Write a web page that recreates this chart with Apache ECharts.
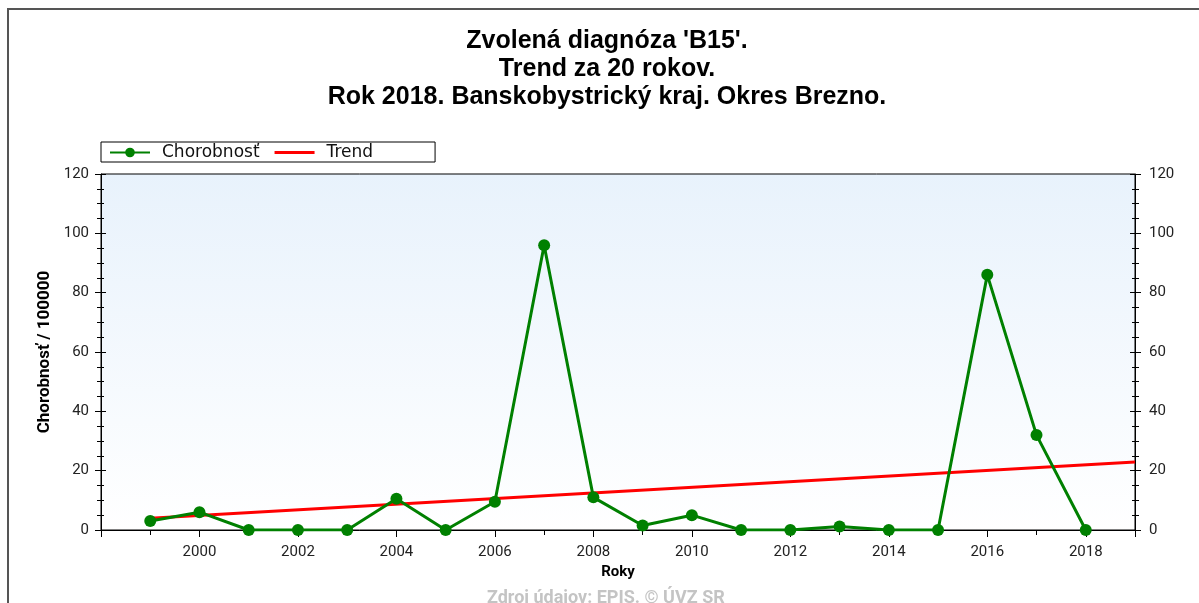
<!DOCTYPE html>
<html>
<head>
<meta charset="utf-8">
<script src="https://cdn.jsdelivr.net/npm/echarts@6/dist/echarts.min.js"></script>
<style>
  html, body { margin: 0; padding: 0; background: #fff; }
  #chart { width: 1199px; height: 603px; }
</style>
</head>
<body>
<div id="chart"></div>
<script>
// data
const years = [1999, 2000, 2001, 2002, 2003, 2004, 2005, 2006, 2007, 2008,
               2009, 2010, 2011, 2012, 2013, 2014, 2015, 2016, 2017, 2018];
const incidence = [3, 6, 0, 0, 0, 10.5, 0, 9.5, 96, 11,
                   1.5, 5, 0, 0, 1.2, 0, 0, 86, 32, 0];
const trendYears = [1999, 2019];
const trendValues = [4, 22.9];
const yTicks = [0, 20, 40, 60, 80, 100, 120];

const chartDom = document.getElementById("chart");
const chart = echarts.init(chartDom);

const labelFont = "Roboto, 'Liberation Sans', sans-serif";
const axisBase = {
  type: "value",
  min: yTicks[0],
  max: yTicks[yTicks.length - 1],
  interval: 20,
  splitLine: { show: false },
};

// plain line icon for the trend entry (degenerate points keep the box 40x12)
const lineIcon = "path://M0,0 L0,0 M0,4.5 L40,4.5 L40,7.5 L0,7.5 Z M40,12 L40,12";

const option = {
  animation: false,
  backgroundColor: "#fff",
  title: {
    text: "Zvolená diagnóza 'B15'.\nTrend za 20 rokov.\nRok 2018. Banskobystrický kraj. Okres Brezno.",
    left: 602,
    textAlign: "center",
    top: 22,
    textStyle: {
      fontFamily: "'Liberation Sans', Arial, sans-serif",
      fontWeight: "bold",
      fontSize: 25,
      lineHeight: 28,
      color: "#000",
    },
  },
  legend: {
    left: 101,
    top: 142,
    padding: [2, 62, 1, 8],
    borderColor: "#000",
    borderWidth: 1,
    itemWidth: 40,
    itemHeight: 12,
    itemGap: 15,
    textStyle: {
      fontFamily: "'DejaVu Sans', sans-serif",
      fontSize: 17,
      color: "#111",
      padding: [0, 0, 0, 7],
    },
    data: [
      { name: "Chorobnosť" },
      { name: "Trend", icon: lineIcon, itemStyle: { color: "#ff0000" } },
    ],
  },
  grid: {
    left: 101,
    right: 64,
    top: 174,
    bottom: 73,
    show: true,
    borderColor: "#000",
    borderWidth: 1,
    backgroundColor: new echarts.graphic.LinearGradient(0, 0, 0, 1, [
      { offset: 0, color: "#e8f2fc" },
      { offset: 1, color: "#ffffff" },
    ]),
  },
  xAxis: [
    {
      type: "value",
      min: 1998,
      max: 2019,
      interval: 2,
      position: "bottom",
      name: "Roky",
      nameLocation: "middle",
      nameGap: 35,
      nameTextStyle: { fontFamily: labelFont, fontWeight: "bold", fontSize: 15, color: "#000" },
      axisLine: { lineStyle: { color: "#000", width: 1 } },
      axisTick: { length: 7, lineStyle: { color: "#000" } },
      minorTick: { show: true, splitNumber: 2, length: 5, lineStyle: { color: "#000" } },
      axisLabel: {
        margin: 15,
        fontFamily: labelFont,
        fontSize: 15,
        color: "#222",
        formatter: (v) => (v === 1998 || v === 2019 ? "" : String(v)),
      },
      splitLine: { show: false },
    },
    {
      type: "value",
      min: 1998,
      max: 2019,
      interval: 1,
      position: "top",
      axisLine: { show: false },
      axisTick: { inside: true, length: 5, lineStyle: { color: "#000" } },
      axisLabel: { show: false },
      splitLine: { show: false },
    },
  ],
  yAxis: [
    Object.assign({}, axisBase, {
      position: "left",
      name: "Chorobnosť / 100000",
      nameLocation: "middle",
      nameGap: 46,
      nameTextStyle: { fontFamily: labelFont, fontWeight: "bold", fontSize: 17, color: "#000" },
      axisLine: { show: true, lineStyle: { color: "#000" } },
      axisTick: { length: 6, lineStyle: { color: "#000" } },
      minorTick: { show: true, splitNumber: 4, length: 4, lineStyle: { color: "#000" } },
      axisLabel: { margin: 12, fontFamily: labelFont, fontSize: 15, color: "#222" },
    }),
    Object.assign({}, axisBase, {
      position: "right",
      axisLine: { show: true, lineStyle: { color: "#000" } },
      axisTick: { length: 6, lineStyle: { color: "#000" } },
      minorTick: { show: true, splitNumber: 4, length: 4, lineStyle: { color: "#000" } },
      axisLabel: { margin: 14, fontFamily: labelFont, fontSize: 15, color: "#222" },
    }),
    Object.assign({}, axisBase, {
      position: "left",
      axisLine: { show: false },
      axisTick: { inside: true, length: 5, lineStyle: { color: "#000" } },
      minorTick: { show: true, splitNumber: 4, length: 3, lineStyle: { color: "#000" } },
      axisLabel: { show: false },
    }),
    Object.assign({}, axisBase, {
      position: "right",
      axisLine: { show: false },
      axisTick: { inside: true, length: 5, lineStyle: { color: "#000" } },
      minorTick: { show: true, splitNumber: 4, length: 3, lineStyle: { color: "#000" } },
      axisLabel: { show: false },
    }),
  ],
  graphic: [
    {
      type: "rect",
      shape: { x: 8, y: 9, width: 1400, height: 800 },
      style: { fill: "none", stroke: "#555", lineWidth: 2 },
      silent: true,
      z: 100,
    },
    {
      type: "text",
      left: 487,
      top: 589,
      style: {
        text: "Zdroj údajov: EPIS. © ÚVZ SR",
        font: "bold 18px Roboto, 'Liberation Sans', sans-serif",
        fill: "#c4c4c4",
      },
    },
  ],
  series: [
    {
      name: "Chorobnosť",
      type: "line",
      xAxisIndex: 0,
      yAxisIndex: 0,
      data: years.map((y, i) => [y, incidence[i]]),
      symbol: "circle",
      symbolSize: 12,
      lineStyle: { color: "#008000", width: 3 },
      itemStyle: { color: "#008000" },
      z: 3,
    },
    {
      name: "Trend",
      type: "line",
      xAxisIndex: 0,
      yAxisIndex: 0,
      data: trendYears.map((y, i) => [y, trendValues[i]]),
      symbol: "none",
      lineStyle: { color: "#ff0000", width: 3 },
      itemStyle: { color: "#ff0000" },
      z: 2,
    },
  ],
};

chart.setOption(option);
window.addEventListener("resize", () => chart.resize());
</script>
</body>
</html>
